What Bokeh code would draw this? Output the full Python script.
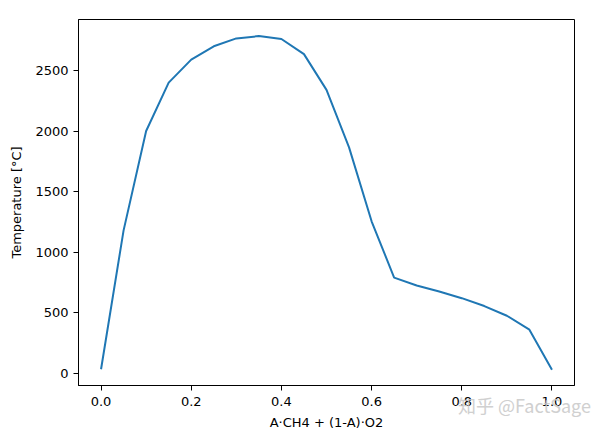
from bokeh.plotting import figure
from bokeh.models import FixedTicker, PrintfTickFormatter, Range1d, Div
from bokeh.layouts import column
from bokeh.embed import file_html
from bokeh.resources import INLINE

# Data
fraction_ch4 = [0.0, 0.05, 0.10, 0.15, 0.20, 0.25, 0.30, 0.35, 0.40, 0.45, 0.50,
                0.55, 0.60, 0.65, 0.70, 0.75, 0.80, 0.85, 0.90, 0.95, 1.0]
temperature_c = [33, 1180, 2000, 2400, 2590, 2700, 2765, 2784, 2760, 2635, 2340,
                 1865, 1255, 790, 725, 675, 620, 555, 475, 360, 30]
x_ticks = [0.0, 0.2, 0.4, 0.6, 0.8, 1.0]
y_ticks = [0, 500, 1000, 1500, 2000, 2500]
x_label = "A·CH4 + (1-A)·O2"
y_label = "Temperature [°C]"
watermark = "知乎 @FactSage"

FONT = "DejaVu Sans"

p = figure(width=596, height=432, output_backend="svg", toolbar_location=None,
           x_range=Range1d(-0.05, 1.05), y_range=Range1d(-101, 2921),
           min_border_left=78, min_border_right=22, min_border_top=19,
           min_border_bottom=44)

p.line(fraction_ch4, temperature_c, line_color="#1f77b4", line_width=2)

p.grid.visible = False
p.outline_line_color = "black"
p.outline_line_width = 1
p.background_fill_color = "white"
p.border_fill_color = "white"

for ax in (p.xaxis[0], p.yaxis[0]):
    ax.axis_line_color = "black"
    ax.major_tick_line_color = "black"
    ax.major_tick_in = 0
    ax.major_tick_out = 5
    ax.minor_tick_line_color = None
    ax.major_label_text_font = FONT
    ax.major_label_text_font_size = "13px"
    ax.major_label_text_color = "black"
    ax.axis_label_text_font = FONT
    ax.axis_label_text_font_size = "13px"
    ax.axis_label_text_font_style = "normal"
    ax.axis_label_text_color = "black"

p.xaxis[0].ticker = FixedTicker(ticks=x_ticks)
p.xaxis[0].formatter = PrintfTickFormatter(format="%.1f")
p.xaxis[0].major_label_standoff = 6
p.xaxis[0].axis_label = x_label
p.xaxis[0].axis_label_standoff = 6

p.yaxis[0].ticker = FixedTicker(ticks=y_ticks)
p.yaxis[0].major_label_standoff = 5
p.yaxis[0].axis_label = y_label
p.yaxis[0].axis_label_standoff = 8

wm = Div(text=watermark, width=140, height=24, margin=(-39, 0, 0, 458),
         styles={"color": "#c8c8c8", "opacity": "0.85",
                 "font-family": "'Noto Sans CJK SC'", "font-size": "18px",
                 "line-height": "24px", "white-space": "nowrap",
                 "pointer-events": "none", "z-index": "10"})

layout = column(p, wm, spacing=0)

open("out.html", "w").write(file_html(layout, INLINE))
